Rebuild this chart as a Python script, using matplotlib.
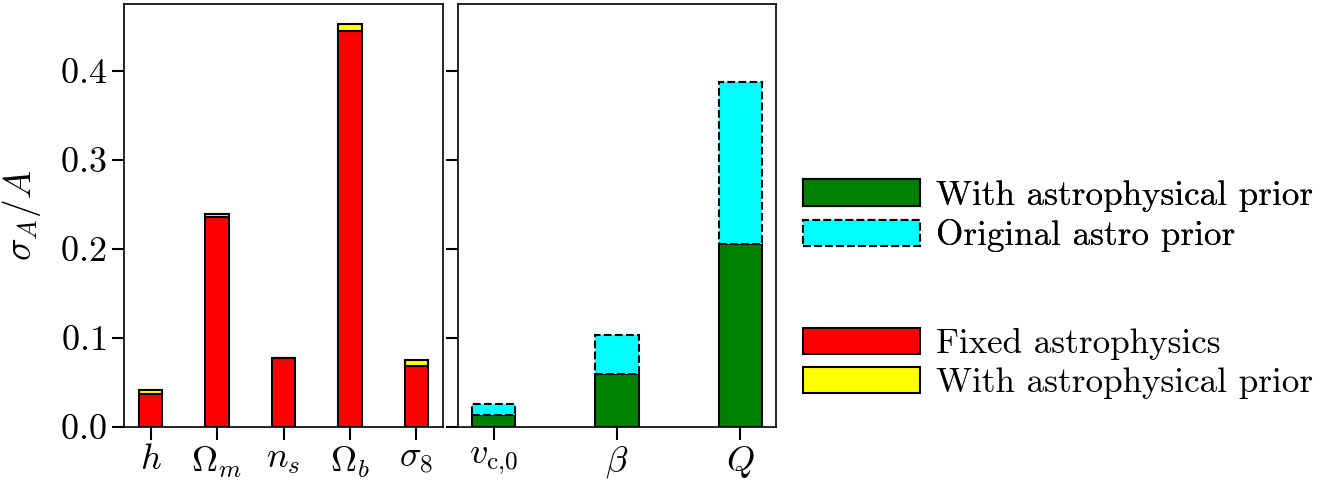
import matplotlib
matplotlib.use('Agg')
import matplotlib.pyplot as plt
import numpy as np

plt.rcParams['font.family'] = 'serif'
plt.rcParams['font.serif'] = ['cmr10']
plt.rcParams['mathtext.fontset'] = 'cm'
plt.rcParams['axes.formatter.use_mathtext'] = True
plt.rcParams['font.size'] = 26

# cosmological parameters: fixed astrophysics vs. with astrophysical prior
cosmo_labels = [r'$h$', r'$\Omega_m$', r'$n_s$', r'$\Omega_b$', r'$\sigma_8$']
cosmo_fixed = [0.037, 0.236, 0.0775, 0.445, 0.068]
cosmo_prior = [0.041, 0.239, 0.078, 0.452, 0.075]

# astrophysical parameters: with prior vs. original prior
astro_labels = [r'$v_{\rm c{,}0}$', r'$\beta$', r'$Q$']
astro_prior = [0.0135, 0.059, 0.205]
astro_orig = [0.0255, 0.1035, 0.387]

W, H = 1339, 487
fig = plt.figure(figsize=(W / 100, H / 100), dpi=100)
ax1 = fig.add_axes([124 / W, 60 / H, 319 / W, 423 / H])
ax2 = fig.add_axes([458 / W, 60 / H, 318 / W, 423 / H], sharey=ax1)

width = 0.35
x1 = np.arange(len(cosmo_labels))
b_red = ax1.bar(x1, cosmo_fixed, width, color='red', edgecolor='black', lw=1.5)
b_yel = ax1.bar(x1, np.array(cosmo_prior) - np.array(cosmo_fixed), width,
                bottom=cosmo_fixed, color='yellow', edgecolor='black', lw=1.5)
ax1.set_xticks(x1)
ax1.set_xticklabels(cosmo_labels)
ax1.set_xlim(-0.4, 4.4)
ax1.set_ylim(0, 0.475)
ax1.set_yticks([0.0, 0.1, 0.2, 0.3, 0.4])
ax1.set_ylabel(r'$\sigma_A/A$', fontsize=27, labelpad=12)

x2 = np.arange(len(astro_labels))
b_grn = ax2.bar(x2, astro_prior, width, color='green', edgecolor='black', lw=1.5)
b_cyn = ax2.bar(x2, np.array(astro_orig) - np.array(astro_prior), width,
                bottom=astro_prior, color='cyan', edgecolor='black', lw=1.5,
                linestyle='--')
ax2.set_xticks(x2)
ax2.set_xticklabels(astro_labels)
ax2.set_xlim(-0.29, 2.29)
ax2.tick_params(labelleft=False)

for ax in (ax1, ax2):
    ax.tick_params(direction='out', length=9, width=1.5, labelsize=26)
    for s in ax.spines.values():
        s.set_linewidth(1.2)

kw = dict(loc='upper left', frameon=False, borderpad=0, borderaxespad=0,
          handlelength=3.33, handleheight=0.78, handletextpad=0.45,
          labelspacing=0.2, fontsize=25.3)
leg1 = fig.legend([b_grn, b_cyn], ['With astrophysical prior', 'Original astro prior'],
                  bbox_to_anchor=(803 / W, 1 - 179.5 / H), **kw)
fig.legend([b_red, b_yel], ['Fixed astrophysics', 'With astrophysical prior'],
           bbox_to_anchor=(803 / W, 1 - 327.5 / H), **kw)
fig.add_artist(leg1)

fig.savefig('out.png', dpi=100)
